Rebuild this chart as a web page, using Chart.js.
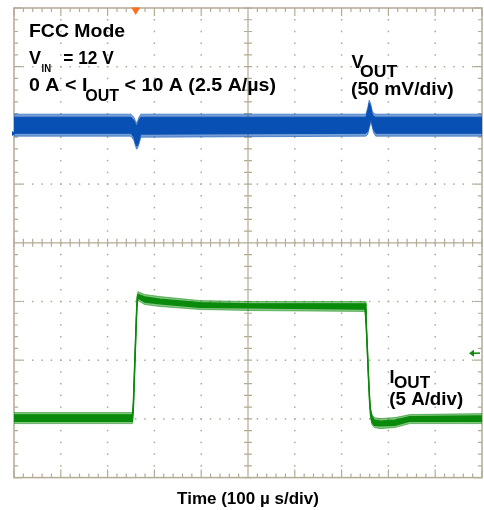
<!DOCTYPE html>
<html>
<head>
<meta charset="utf-8">
<script src="https://cdn.jsdelivr.net/npm/chart.js@4/dist/chart.umd.min.js"></script>
<style>
  html, body { margin: 0; padding: 0; background: #fff; }
  #wrap { width: 484px; height: 510px; position: relative; }
</style>
</head>
<body>
<div id="wrap"><canvas id="scope"></canvas></div>
<script>
// time base: 10 div x 100 us
const timeMin = 0, timeMax = 1000, majorTime = 100, minorTime = 20;
// channel 1 (VOUT, AC ripple): 50 mV/div, 8 div
const vMin = -300, vMax = 100;
// channel 2 (IOUT): 5 A/div, 8 div
const aMin = -5, aMax = 35, aMajor = 5, aMinor = 1, aCenter = 15;

// markers
const triggerTime = 260;  // us
const triggerLevel = 5.6; // A
const vRef = -7;          // mV

// VOUT trace envelope (mV)
const vTime   = [0, 250, 256, 259, 262, 264, 267, 271, 752, 756, 759, 762, 765, 768, 773, 1000];
const vUpper  = [9.6, 9.6, 7.0, 4.4, 1.9, 3.6, 7.0, 9.6, 9.6, 15.5, 21.5, 18.9, 13.0, 10.4, 9.6, 9.6];
const vLower  = [-9.2, -9.2, -12.6, -16.9, -20.3, -19.5, -16.0, -10.1, -9.2, -7.5, -2.4, 2.7, -0.7, -5.8, -9.2, -9.2];
const vCoreUp = [7.0, 7.0, 4.4, 1.9, -0.7, 1.0, 4.4, 7.0, 7.0, 13.0, 18.9, 16.4, 10.4, 7.8, 7.0, 7.0];
const vCoreLo = [-6.7, -6.7, -10.1, -14.3, -17.7, -16.9, -13.5, -7.5, -6.7, -5.0, 0.2, 5.3, 1.9, -3.2, -6.7, -6.7];

// IOUT trace envelope (A)
const gTime   = [0, 253, 255, 257, 259, 261, 263, 265, 279, 312, 397, 504, 750, 752, 754, 756, 758, 760, 762, 765, 770, 782, 814, 846, 1000];
const gUpper  = [0.54, 0.54, 1.56, 3.95, 6.25, 8.55, 10.50, 10.84, 10.60, 10.42, 10.08, 10.0, 10.0, 9.06, 7.27, 5.40, 3.52, 1.90, 0.88, 0.37, 0.11, 0.03, 0.11, 0.37, 0.45];
const gLower  = [-0.40, -0.40, 0.54, 2.92, 5.23, 7.53, 9.65, 10.08, 9.74, 9.57, 9.32, 9.23, 9.15, 8.21, 6.42, 4.54, 2.67, 1.05, 0.03, -0.49, -0.74, -0.83, -0.74, -0.40, -0.40];
const gCoreUp = [0.35, 0.35, 1.35, 3.75, 6.05, 8.35, 10.3, 10.6, 10.4, 10.2, 9.9, 9.8, 9.8, 8.85, 7.05, 5.2, 3.3, 1.7, 0.7, 0.2, -0.1, -0.2, -0.1, 0.2, 0.25];
const gCoreLo = [-0.2, -0.2, 0.75, 3.1, 5.45, 7.75, 9.85, 10.3, 9.95, 9.8, 9.5, 9.45, 9.35, 8.4, 6.6, 4.75, 2.9, 1.25, 0.25, -0.3, -0.55, -0.6, -0.55, -0.2, -0.2];

const blue = 'rgb(8,80,180)';
const blueFringe = 'rgba(8,80,180,0.55)';
const green = 'rgb(10,138,10)';
const greenFringe = 'rgba(10,138,10,0.5)';
const gridColor = 'rgb(180,171,150)';
const dotColor = 'rgb(175,168,150)';
const fontFamily = '"Liberation Sans", Arial, sans-serif';

function pts(times, vals) {
  return times.map((t, i) => ({ x: t, y: vals[i] }));
}

function band(values, times, axis, color, fill, width) {
  return {
    data: pts(times, values),
    yAxisID: axis,
    borderColor: color,
    backgroundColor: color,
    borderWidth: width,
    fill: fill,
    pointRadius: 0,
    tension: 0
  };
}

// graticule, drawn under the traces
const graticule = {
  id: 'graticule',
  beforeDatasetsDraw(chart) {
    const { ctx, chartArea: a, scales } = chart;
    const xs = scales.x, ys = scales.yA;
    const cx = xs.getPixelForValue((timeMin + timeMax) / 2);
    const cy = ys.getPixelForValue(aCenter);
    ctx.save();

    // dotted major lines
    ctx.fillStyle = dotColor;
    for (let t = timeMin + majorTime; t < timeMax; t += majorTime) {
      if (t === (timeMin + timeMax) / 2) continue;
      const px = xs.getPixelForValue(t);
      for (let v = aMin + aMinor; v < aMax; v += aMinor) {
        ctx.fillRect(px - 0.75, ys.getPixelForValue(v) - 0.75, 1.5, 1.5);
      }
    }
    for (let v = aMin + aMajor; v < aMax; v += aMajor) {
      if (v === aCenter) continue;
      const py = ys.getPixelForValue(v);
      for (let t = timeMin + minorTime; t < timeMax; t += minorTime) {
        ctx.fillRect(xs.getPixelForValue(t) - 0.75, py - 0.75, 1.5, 1.5);
      }
    }

    ctx.strokeStyle = gridColor;
    ctx.lineWidth = 1.2;
    ctx.beginPath();
    // frame + centre ticks along time
    for (let t = timeMin; t <= timeMax; t += minorTime) {
      const px = xs.getPixelForValue(t);
      const len = (t % majorTime === 0) ? 8 : 4;
      ctx.moveTo(px, a.top); ctx.lineTo(px, a.top + len);
      ctx.moveTo(px, a.bottom); ctx.lineTo(px, a.bottom - len);
      ctx.moveTo(px, cy - 4); ctx.lineTo(px, cy + 4);
    }
    for (let v = aMin; v <= aMax; v += aMinor) {
      const py = ys.getPixelForValue(v);
      const len = ((v - aMin) % aMajor === 0) ? 8 : 4;
      ctx.moveTo(a.left, py); ctx.lineTo(a.left + len, py);
      ctx.moveTo(a.right, py); ctx.lineTo(a.right - len, py);
      ctx.moveTo(cx - 4, py); ctx.lineTo(cx + 4, py);
    }
    // centre cross
    ctx.moveTo(cx, a.top); ctx.lineTo(cx, a.bottom);
    ctx.moveTo(a.left, cy); ctx.lineTo(a.right, cy);
    ctx.stroke();

    ctx.lineWidth = 1.5;
    ctx.strokeRect(a.left, a.top, a.right - a.left, a.bottom - a.top);
    ctx.restore();
  }
};

function label(ctx, str, x, y, size, sx) {
  ctx.save();
  ctx.translate(x, y);
  ctx.scale(sx, 1);
  ctx.font = 'bold ' + size + 'px ' + fontFamily;
  ctx.fillText(str, 0, 0);
  const w = ctx.measureText(str).width * sx;
  ctx.restore();
  return w;
}

// annotations and channel markers, drawn over the traces
const annotations = {
  id: 'annotations',
  afterDatasetsDraw(chart) {
    const { ctx, chartArea: a, scales } = chart;
    ctx.save();
    ctx.fillStyle = '#000';
    ctx.textBaseline = 'alphabetic';

    label(ctx, 'FCC Mode', 29, 36.5, 18, 1.08);

    label(ctx, 'V', 29, 64.3, 18, 1.0);
    label(ctx, 'IN', 41.5, 71.7, 10, 0.95);
    label(ctx, '= 12 V', 63.3, 64.3, 18, 0.96);

    let x = 29;
    x += label(ctx, '0 A < I', x, 90.7, 18, 1.09);
    x -= 2;
    x += label(ctx, 'OUT', x, 100.5, 16, 1.0);
    label(ctx, ' < 10 A (2.5 A/\u00b5s)', x, 90.7, 18, 1.09);

    label(ctx, 'V', 351.5, 68.3, 18, 1.0);
    label(ctx, 'OUT', 360, 77.3, 16, 1.1);
    label(ctx, '(50 mV/div)', 351, 95, 18, 1.07);

    label(ctx, 'I', 389.5, 383, 18, 1.0);
    label(ctx, 'OUT', 394, 388.3, 16, 1.07);
    label(ctx, '(5 A/div)', 389.3, 404.5, 18, 1.04);

    // trigger position
    const tx = scales.x.getPixelForValue(triggerTime);
    ctx.fillStyle = 'rgb(255,110,30)';
    ctx.beginPath();
    ctx.moveTo(tx - 4.5, a.top - 0.5);
    ctx.lineTo(tx + 4.5, a.top - 0.5);
    ctx.lineTo(tx, a.top + 7);
    ctx.closePath();
    ctx.fill();

    // trigger level arrow (ch2)
    const ly = scales.yA.getPixelForValue(triggerLevel);
    ctx.strokeStyle = green;
    ctx.fillStyle = green;
    ctx.lineWidth = 1.5;
    ctx.beginPath();
    ctx.moveTo(a.right - 9, ly); ctx.lineTo(a.right - 2, ly);
    ctx.stroke();
    ctx.beginPath();
    ctx.moveTo(a.right - 13, ly);
    ctx.lineTo(a.right - 8, ly - 3.5);
    ctx.lineTo(a.right - 8, ly + 3.5);
    ctx.closePath();
    ctx.fill();

    // ch1 reference marker
    const ry = scales.yV.getPixelForValue(vRef);
    ctx.fillStyle = blue;
    ctx.beginPath();
    ctx.moveTo(a.left - 2, ry - 2.5);
    ctx.lineTo(a.left + 2, ry);
    ctx.lineTo(a.left - 2, ry + 2.5);
    ctx.closePath();
    ctx.fill();
    ctx.restore();
  }
};

new Chart(document.getElementById('scope'), {
  type: 'line',
  data: {
    datasets: [
      band(vCoreUp, vTime, 'yV', blue, '+1', 1),
      band(vCoreLo, vTime, 'yV', blue, false, 1),
      band(vUpper, vTime, 'yV', blueFringe, '+1', 1),
      band(vLower, vTime, 'yV', blueFringe, false, 1),
      band(gCoreUp, gTime, 'yA', green, '+1', 1.3),
      band(gCoreLo, gTime, 'yA', green, false, 1.3),
      band(gUpper, gTime, 'yA', greenFringe, '+1', 1),
      band(gLower, gTime, 'yA', greenFringe, false, 1)
    ]
  },
  options: {
    animation: false,
    responsive: true,
    maintainAspectRatio: false,
    devicePixelRatio: 1,
    layout: { padding: { left: 14, top: 8, right: 2, bottom: 0 } },
    plugins: {
      legend: { display: false },
      tooltip: { enabled: false },
      title: {
        display: true,
        position: 'bottom',
        text: 'Time (100 \u00b5 s/div)',
        color: '#000',
        font: { family: fontFamily, size: 17, weight: 'bold' },
        padding: { top: 12, bottom: 0 }
      }
    },
    scales: {
      x: { type: 'linear', min: timeMin, max: timeMax, display: false },
      yV: { type: 'linear', min: vMin, max: vMax, display: false },
      yA: { type: 'linear', min: aMin, max: aMax, display: false }
    }
  },
  plugins: [graticule, annotations]
});
</script>
</body>
</html>
